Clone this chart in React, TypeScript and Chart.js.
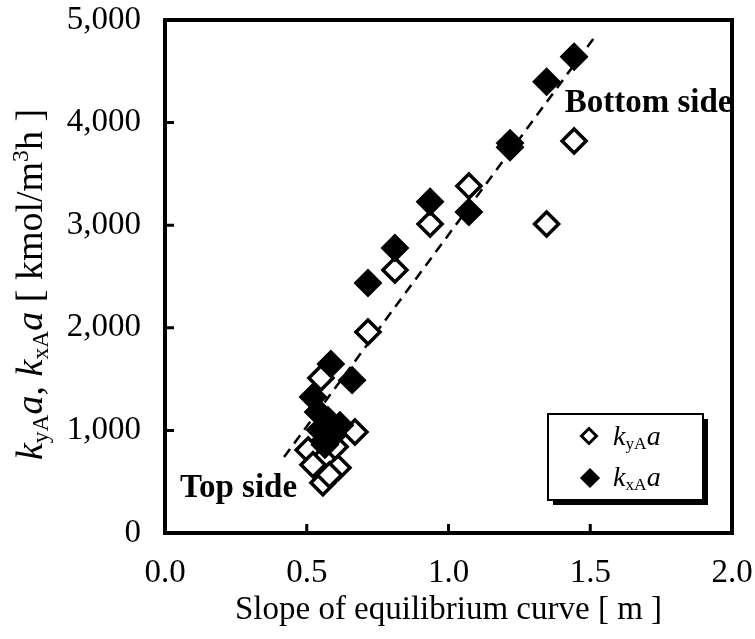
import { useEffect, useRef } from 'react';
import { Chart, registerables } from 'chart.js';

Chart.register(...registerables);

// Slope of equilibrium curve m and capacity coefficients [kmol/m3h]
const slopeKy = [0.55, 0.67, 0.505, 0.522, 0.61, 0.557, 0.58, 0.564, 0.60, 0.716, 0.811, 0.935, 1.072, 1.217, 1.346, 1.443];
const kyA = [1510, 985, 810, 665, 635, 490, 565, 905, 840, 1960, 2563, 3011, 3382, 3760, 3011, 3821];

const slopeKx = [0.522, 0.585, 0.66, 0.54, 0.575, 0.547, 0.593, 0.617, 0.564, 0.716, 0.811, 0.935, 1.072, 1.217, 1.346, 1.443];
const kxA = [1325, 1647, 1490, 1180, 1100, 1005, 955, 1050, 860, 2437, 2778, 3229, 3129, 3800, 4399, 4642];

// Dashed correlation line end points
const trendSlope = [0.42, 1.52];
const trendK = [740, 4850];

const xTickLabels = ['0.0', '0.5', '1.0', '1.5', '2.0'];
const yTickLabels = ['0', '1,000', '2,000', '3,000', '4,000', '5,000'];

const FONT = "'Liberation Serif', 'Times New Roman', serif";
const TICK_SIZE = 33;

type Run = { t: string; italic?: boolean; sub?: boolean; sup?: boolean };

const yTitleRuns: Run[] = [
  { t: 'k', italic: true }, { t: 'yA', sub: true }, { t: 'a', italic: true }, { t: ', ' },
  { t: 'k', italic: true }, { t: 'xA', sub: true }, { t: 'a', italic: true },
  { t: ' [ kmol/m' }, { t: '3', sup: true }, { t: 'h ]' },
];
const legendKy: Run[] = [{ t: 'k', italic: true }, { t: 'yA', sub: true }, { t: 'a', italic: true }];
const legendKx: Run[] = [{ t: 'k', italic: true }, { t: 'xA', sub: true }, { t: 'a', italic: true }];

function runFont(r: Run, size: number) {
  const s = r.sub || r.sup ? size * 0.62 : size;
  return `${r.italic ? 'italic ' : ''}${s}px ${FONT}`;
}

function measureRuns(ctx: CanvasRenderingContext2D, runs: Run[], size: number) {
  let w = 0;
  for (const r of runs) {
    ctx.font = runFont(r, size);
    w += ctx.measureText(r.t).width;
  }
  return w;
}

function drawRuns(ctx: CanvasRenderingContext2D, runs: Run[], x: number, y: number, size: number) {
  let cx = x;
  ctx.textBaseline = 'alphabetic';
  ctx.textAlign = 'left';
  for (const r of runs) {
    ctx.font = runFont(r, size);
    const dy = r.sub ? size * 0.16 : r.sup ? -size * 0.36 : 0;
    ctx.fillText(r.t, cx, y + dy);
    cx += ctx.measureText(r.t).width;
  }
}

function diamond(ctx: CanvasRenderingContext2D, x: number, y: number, r: number, filled: boolean) {
  ctx.beginPath();
  ctx.moveTo(x - r, y);
  ctx.lineTo(x, y - r);
  ctx.lineTo(x + r, y);
  ctx.lineTo(x, y + r);
  ctx.closePath();
  ctx.fillStyle = filled ? '#000' : '#fff';
  ctx.fill();
  ctx.lineWidth = 3;
  ctx.strokeStyle = '#000';
  ctx.stroke();
}

const framePlugin = {
  id: 'frame',
  beforeDatasetsDraw(chart: any) {
    const { ctx, chartArea: a, scales } = chart;
    ctx.save();
    ctx.strokeStyle = '#000';
    ctx.lineWidth = 4;
    ctx.strokeRect(a.left, a.top, a.right - a.left, a.bottom - a.top);
    ctx.lineWidth = 3;
    const tl = 9;
    ctx.beginPath();
    for (const t of scales.x.ticks) {
      const px = scales.x.getPixelForValue(t.value);
      ctx.moveTo(px, a.bottom);
      ctx.lineTo(px, a.bottom - tl);
    }
    for (const t of scales.y.ticks) {
      const py = scales.y.getPixelForValue(t.value);
      ctx.moveTo(a.left, py);
      ctx.lineTo(a.left + tl, py);
    }
    ctx.stroke();
    ctx.restore();
  },
  afterDraw(chart: any) {
    const { ctx, chartArea: a, scales } = chart;
    ctx.save();
    ctx.fillStyle = '#000';

    // rotated y-axis title
    const ts = 38;
    const w = measureRuns(ctx, yTitleRuns, ts);
    ctx.translate(42, (a.top + a.bottom) / 2 + 8);
    ctx.rotate(-Math.PI / 2);
    drawRuns(ctx, yTitleRuns, -w / 2, 0, ts);
    ctx.setTransform(1, 0, 0, 1, 0, 0);

    // side annotations
    ctx.font = `bold 33px ${FONT}`;
    ctx.textAlign = 'left';
    ctx.textBaseline = 'alphabetic';
    ctx.fillText('Top side', scales.x.getPixelForValue(0.053), scales.y.getPixelForValue(350));
    ctx.fillText('Bottom side', scales.x.getPixelForValue(1.41), scales.y.getPixelForValue(4100));

    // legend box with drop shadow
    const lx = a.right - 184;
    const ly = a.bottom - 119;
    const lw = 155;
    const lh = 86;
    ctx.fillStyle = '#000';
    ctx.fillRect(lx + 5, ly + 5, lw, lh);
    ctx.fillStyle = '#fff';
    ctx.fillRect(lx, ly, lw, lh);
    ctx.strokeStyle = '#000';
    ctx.lineWidth = 2;
    ctx.strokeRect(lx, ly, lw, lh);
    diamond(ctx, lx + 41, ly + 22, 7.5, false);
    diamond(ctx, lx + 42, ly + 64, 8, true);
    ctx.fillStyle = '#000';
    drawRuns(ctx, legendKy, lx + 65, ly + 31, 28);
    drawRuns(ctx, legendKx, lx + 65, ly + 72, 28);
    ctx.restore();
  },
};

export default function App() {
  const ref = useRef<HTMLCanvasElement | null>(null);

  useEffect(() => {
    if (!ref.current) return;
    const chart = new Chart(ref.current, {
      type: 'scatter',
      data: {
        datasets: [
          // listed first so the filled diamonds sit on top of the hollow ones
          {
            label: 'kxAa',
            data: slopeKx.map((x, i) => ({ x, y: kxA[i] })),
            pointStyle: 'rectRot',
            pointRadius: 12,
            borderWidth: 3.5,
            borderColor: '#000',
            backgroundColor: '#000',
          },
          {
            label: 'kyAa',
            data: slopeKy.map((x, i) => ({ x, y: kyA[i] })),
            pointStyle: 'rectRot',
            pointRadius: 12,
            borderWidth: 3.5,
            borderColor: '#000',
            backgroundColor: '#fff',
          },
          {
            type: 'line',
            label: 'trend',
            data: trendSlope.map((x, i) => ({ x, y: trendK[i] })),
            borderColor: '#000',
            borderWidth: 2.5,
            borderDash: [10, 7],
            pointRadius: 0,
            fill: false,
          } as any,
        ],
      },
      options: {
        responsive: false,
        animation: false,
        devicePixelRatio: 1,
        layout: { padding: { top: 20, right: 23, left: 0, bottom: 0 } },
        plugins: { legend: { display: false }, tooltip: { enabled: false } },
        scales: {
          x: {
            type: 'linear',
            min: 0,
            max: 2,
            ticks: {
              stepSize: 0.5,
              padding: 21,
              color: '#000',
              font: { family: FONT, size: TICK_SIZE },
              maxRotation: 0,
              callback: (_v: any, i: number) => xTickLabels[i],
            },
            grid: { display: false, drawTicks: false },
            border: { display: false },
            title: {
              display: true,
              text: 'Slope of equilibrium curve [ m ]',
              color: '#000',
              font: { family: FONT, size: TICK_SIZE },
              padding: { top: 0, bottom: 9 },
            },
            afterFit: (s: any) => {
              s.height = 106;
              s.paddingLeft = 0;
              s.paddingRight = 0;
            },
          },
          y: {
            type: 'linear',
            min: 0,
            max: 5000,
            ticks: {
              stepSize: 1000,
              padding: 24,
              color: '#000',
              font: { family: FONT, size: TICK_SIZE },
              callback: (_v: any, i: number) => yTickLabels[i],
            },
            grid: { display: false, drawTicks: false },
            border: { display: false },
            afterFit: (s: any) => {
              s.width = 165;
              s.paddingTop = 0;
              s.paddingBottom = 0;
            },
          },
        },
      },
      plugins: [framePlugin],
    } as any);
    return () => chart.destroy();
  }, []);

  return (
    <div style={{ position: 'fixed', left: 0, top: 0, width: 755, height: 639, background: '#fff' }}>
      <canvas ref={ref} width={755} height={639} style={{ display: 'block', width: 755, height: 639 }} />
    </div>
  );
}
